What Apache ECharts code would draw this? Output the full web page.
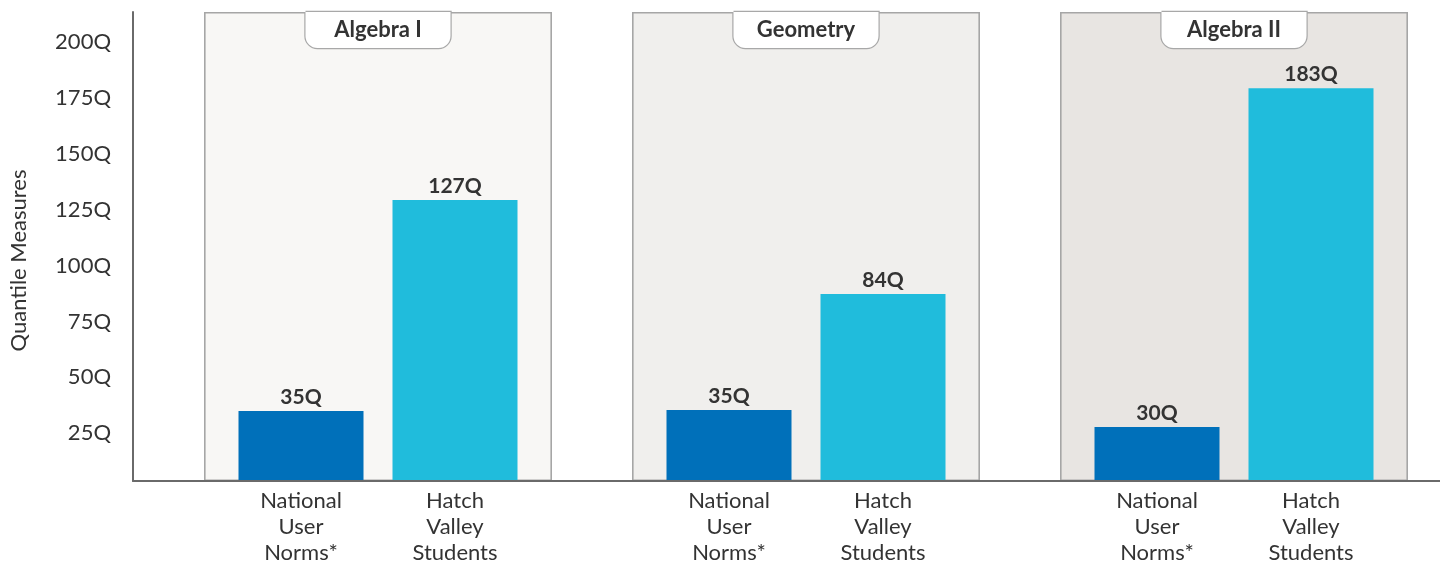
<!DOCTYPE html>
<html>
<head>
<meta charset="utf-8">
<script src="https://cdn.jsdelivr.net/npm/echarts@6/dist/echarts.min.js"></script>
<style>
html,body{margin:0;padding:0;background:#fff;}
#chart{width:1440px;height:568px;}
</style>
</head>
<body>
<div id="chart"></div>
<script>
// ---- data ----
const categories = ['Algebra I', 'Geometry', 'Algebra II'];
const nationalBar = [31.3, 31.8, 24.2];     // bar heights
const hatchBar = [125.8, 83.7, 175.9];
const nationalLabel = [35, 35, 30];         // printed value labels
const hatchLabel = [127, 84, 183];
const nationalName = ['National', 'User', 'Norms*'];
const hatchName = ['Hatch', 'Valley', 'Students'];
const yMax = 210;
const yInterval = 25;
const panelColors = ['#F8F7F5', '#F0EFED', '#E8E5E2'];

const FONT = 'Lato, "Noto Sans", sans-serif';
const TXT = '#333333';
const AX = '#6a6a6a';

const chart = echarts.init(document.getElementById('chart'), null, {renderer: 'canvas'});

const bottomLabel = () => nationalName.map((n, i) => '{a|' + n + '}{b|' + hatchName[i] + '}').join('\n');

const option = {
  animation: false,
  backgroundColor: '#ffffff',
  grid: [
    {left: 133, right: 0, top: 12, bottom: 87, containLabel: false},
    {left: 378, right: 206, top: 12, bottom: 87, containLabel: false}
  ],
  xAxis: [
    {
      gridIndex: 0, type: 'value', min: 0, max: 1, z: 10,
      axisLine: {show: true, lineStyle: {color: AX, width: 2}},
      axisTick: {show: false}, axisLabel: {show: false}, splitLine: {show: false}
    },
    {
      gridIndex: 1, type: 'category', data: categories, position: 'bottom', boundaryGap: false,
      axisLine: {show: false}, axisTick: {show: false}, splitLine: {show: false},
      axisLabel: {
        margin: 7, interval: 0,
        formatter: bottomLabel,
        rich: {
          a: {width: 154, align: 'center', fontFamily: FONT, fontSize: 22, color: TXT, lineHeight: 26},
          b: {width: 154, align: 'center', fontFamily: FONT, fontSize: 22, color: TXT, lineHeight: 26}
        }
      }
    },
    {
      gridIndex: 1, type: 'category', data: categories, position: 'top', z: 10, boundaryGap: false,
      axisLine: {show: false}, axisTick: {show: false}, splitLine: {show: false},
      axisLabel: {
        inside: true, margin: 0, interval: 0,
        fontFamily: FONT, fontSize: 22, fontWeight: 'bold', color: TXT,
        width: 145, align: 'center', lineHeight: 22,
        padding: [7, 0, 7, 0],
        backgroundColor: '#ffffff', borderColor: '#a8a8a8', borderWidth: 1.2,
        borderRadius: [0, 0, 12, 12]
      }
    }
  ],
  yAxis: [
    {
      gridIndex: 0, type: 'value', min: 0, max: yMax, interval: yInterval,
      axisLine: {show: true, lineStyle: {color: AX, width: 2}},
      axisTick: {show: false}, splitLine: {show: false},
      axisLabel: {
        margin: 22, fontFamily: FONT, fontSize: 22, color: TXT,
        verticalAlign: 'top', lineHeight: 16,
        formatter: v => (v > 0 && v % yInterval === 0) ? v + 'Q' : ''
      },
      name: 'Quantile Measures', nameLocation: 'middle', nameGap: 103,
      nameTextStyle: {fontFamily: FONT, fontSize: 22, color: TXT, padding: [0, 28, 0, 0]}
    },
    {
      gridIndex: 1, type: 'value', min: 0, max: yMax, interval: yInterval, show: false
    }
  ],
  series: [
    {
      type: 'bar', name: 'panel', xAxisIndex: 2, yAxisIndex: 1, silent: true, z: 1,
      barWidth: 348,
      data: categories.map((c, i) => ({value: yMax, itemStyle: {color: panelColors[i]}})),
      itemStyle: {borderColor: '#a6a6a6', borderWidth: 1.6}
    },
    {
      type: 'bar', name: 'National User Norms*', xAxisIndex: 1, yAxisIndex: 1, z: 3,
      barWidth: 125, barGap: '23.2%',
      itemStyle: {color: '#0070BA'},
      data: nationalBar,
      label: {
        show: true, position: 'top', distance: 3,
        fontFamily: FONT, fontSize: 21, fontWeight: 'bold', color: TXT,
        formatter: p => nationalLabel[p.dataIndex] + 'Q'
      }
    },
    {
      type: 'bar', name: 'Hatch Valley Students', xAxisIndex: 1, yAxisIndex: 1, z: 3,
      barWidth: 125, barGap: '23.2%',
      itemStyle: {color: '#20BCDC'},
      data: hatchBar,
      label: {
        show: true, position: 'top', distance: 3,
        fontFamily: FONT, fontSize: 21, fontWeight: 'bold', color: TXT,
        formatter: p => hatchLabel[p.dataIndex] + 'Q'
      }
    }
  ]
};
chart.setOption(option);
</script>
</body>
</html>
